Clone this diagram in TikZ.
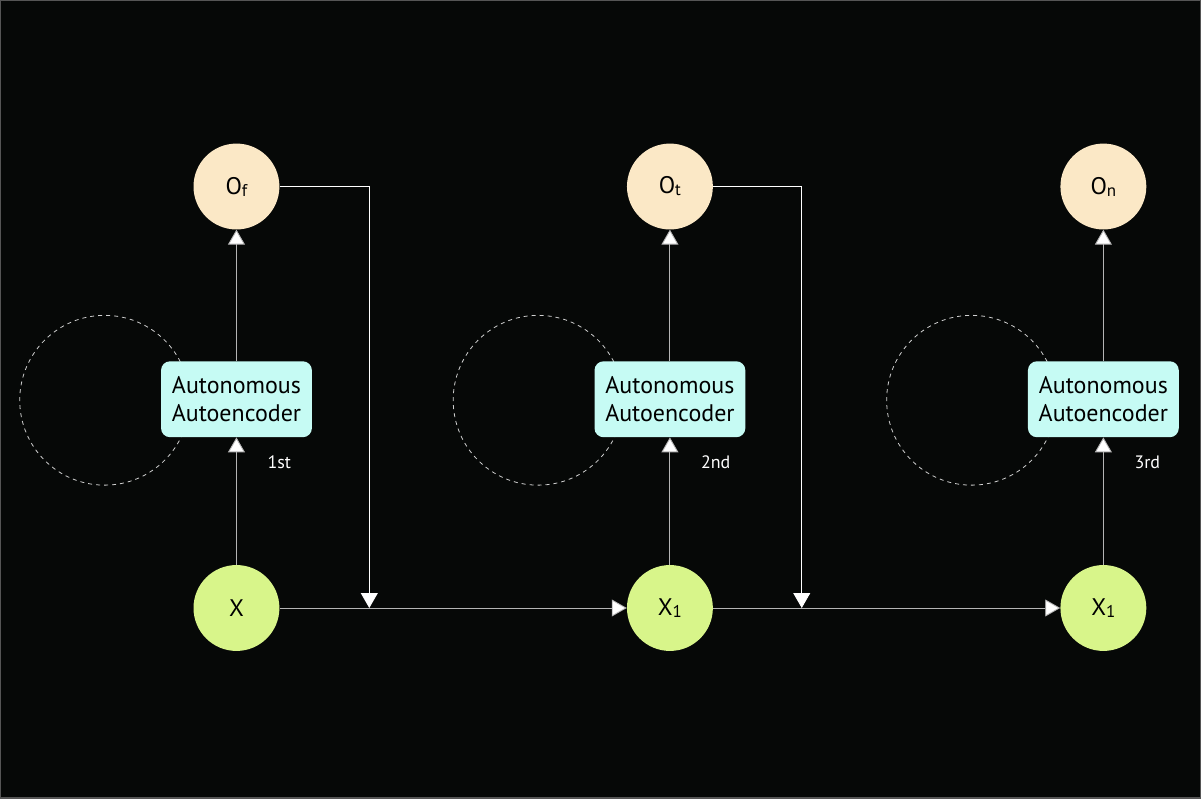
\documentclass[tikz,border=0pt]{standalone}
\usepackage{fontspec}
\setmainfont{PT Sans}
\usetikzlibrary{arrows.meta,positioning}

\begin{document}
\begin{tikzpicture}[x=1pt,y=-1pt]

	% ============================================================
	% COLORS
	% ============================================================
	\definecolor{canvas}{HTML}{060807}
	\definecolor{frame}{HTML}{555555}
	\definecolor{outFill}{HTML}{FBE8C6}
	\definecolor{inFill}{HTML}{D8F58A}
	\definecolor{aeFill}{HTML}{C6FBF4}
	\definecolor{wire}{HTML}{B4B4B4}
	\definecolor{loopLine}{HTML}{D0D0D0}

	% ============================================================
	% STYLES
	% ============================================================
	\tikzset{
		dot/.style={
			circle,
			minimum size=86pt,
			inner sep=0pt,
			font=\fontsize{24}{26}\selectfont,
			text=black
		},
	outDot/.style={dot, fill=outFill},
	inDot/.style={dot, fill=inFill},
	aeBox/.style={
			rounded corners=9pt,
			minimum width=151pt,
			minimum height=76pt,
			align=center,
			fill=aeFill,
			font=\fontsize{24}{28}\selectfont,
			text=black
		},
	loopRing/.style={circle, minimum size=170pt, draw=loopLine, dash pattern=on 4pt off 4pt, line width=0.8pt},
	tip/.style={-{Triangle[length=15pt,width=17pt,fill=white]},line width=0.9pt,draw=wire},
	fb/.style={-{Triangle[length=15pt,width=17pt,fill=white]},line width=0.9pt,draw=white},
	lbl/.style={font=\fontsize{18}{20}\selectfont,text=white,inner sep=0pt}
	}

	% ============================================================
	% CANVAS
	% ============================================================
	\path[use as bounding box, fill=canvas, draw=frame, line width=1.5pt] (0,0) rectangle (1201,798);

	% ============================================================
	% LOOPS (behind the boxes)
	% ============================================================
	\node[loopRing] (loop1) at (104,400) {};
	\node[loopRing] (loop2) at (538,400) {};
	\node[loopRing] (loop3) at (972,400) {};

	% COLUMN 1
	\node[outDot] (of)  at (236,186) {O\raisebox{-2pt}{\fontsize{17}{17}\selectfont f}};
	\node[aeBox]  (ae1) at (236,399) {Autonomous\\Autoencoder};
	\node[inDot]  (x)   at (236,608) {X};
	\node[lbl, anchor=west] (n1) at (267,462) {1st};

	% COLUMN 2
	\node[outDot] (ot)  at (670,186) {O\raisebox{-2pt}{\fontsize{17}{17}\selectfont t}};
	\node[aeBox]  (ae2) at (670,399) {Autonomous\\Autoencoder};
	\node[inDot]  (xa)  at (670,608) {X\raisebox{-2pt}{\fontsize{17}{17}\selectfont 1}};
	\node[lbl, anchor=west] (n2) at (701,462) {2nd};

	% COLUMN 3
	\node[outDot] (on)  at (1104,186) {O\raisebox{-2pt}{\fontsize{17}{17}\selectfont n}};
	\node[aeBox]  (ae3) at (1104,399) {Autonomous\\Autoencoder};
	\node[inDot]  (xb)  at (1104,608) {X\raisebox{-2pt}{\fontsize{17}{17}\selectfont 1}};
	\node[lbl, anchor=west] (n3) at (1135,462) {3rd};

	% ============================================================
	% ARROWS - VERTICAL (input -> encoder -> output)
	% ============================================================
	\draw[tip] (x.north)   -- (ae1.south);
	\draw[tip] (ae1.north) -- (of.south);
	\draw[tip] (xa.north)  -- (ae2.south);
	\draw[tip] (ae2.north) -- (ot.south);
	\draw[tip] (xb.north)  -- (ae3.south);
	\draw[tip] (ae3.north) -- (on.south);

	% ============================================================
	% ARROWS - HORIZONTAL (input chain)
	% ============================================================
	\draw[tip] (x.east)  -- (xa.west);
	\draw[tip] (xa.east) -- (xb.west);

	% ============================================================
	% ARROWS - FEEDBACK (output -> next input)
	% ============================================================
	\coordinate (join1) at (369,608);
	\coordinate (join2) at (802,608);
	\draw[fb] (of.east) -| (join1);
	\draw[fb] (ot.east) -| (join2);

\end{tikzpicture}
\end{document}
